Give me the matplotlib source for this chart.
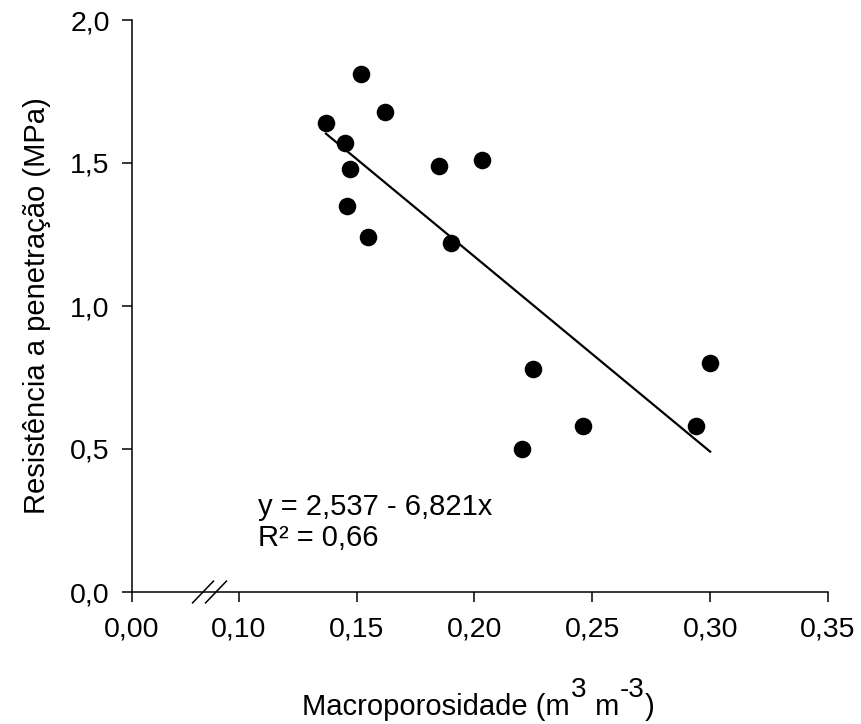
import numpy as np
import matplotlib
matplotlib.use('Agg')
import matplotlib.pyplot as plt

plt.rcParams['font.family'] = ['Liberation Sans', 'DejaVu Sans']

# macroporosity (m3 m-3) and penetration resistance (MPa)
macro = [0.137, 0.145, 0.147, 0.146, 0.155, 0.152, 0.162, 0.185, 0.203,
         0.190, 0.225, 0.246, 0.220, 0.294, 0.300]
resist = [1.64, 1.57, 1.48, 1.35, 1.24, 1.81, 1.68, 1.49, 1.51,
          1.22, 0.78, 0.58, 0.50, 0.58, 0.80]

# fitted line printed on the chart
b0, b1 = 2.537, -6.821
r2 = 0.66

x_ticks = [0.10, 0.15, 0.20, 0.25, 0.30, 0.35]
y_ticks = [0.0, 0.5, 1.0, 1.5, 2.0]
x_zero = 0.0547   # where "0,00" sits on the broken axis

fig = plt.figure(figsize=(8.61, 7.24), dpi=100)
ax = fig.add_axes([132/861, 1 - 592/724, 696/861, 572/724])

ax.scatter(macro, resist, s=160, color='black', zorder=3, linewidths=0)
xf = np.array([min(macro), max(macro)])
ax.plot(xf, b0 + b1*xf, color='black', lw=1.6)

ax.set_xlim(x_zero, 0.35)
ax.set_ylim(0, 2.0)
ax.set_xticks([x_zero] + x_ticks)
ax.set_xticklabels(['0,00'] + [f'{t:.2f}'.replace('.', ',') for t in x_ticks])
ax.set_yticks(y_ticks)
ax.set_yticklabels([f'{t:.1f}'.replace('.', ',') for t in y_ticks])
ax.tick_params(labelsize=20.5, length=7, width=1.1)
ax.tick_params(axis='x', pad=11)
ax.tick_params(axis='y', pad=9)
ax.spines['top'].set_visible(False)
ax.spines['right'].set_visible(False)
for s in ['left', 'bottom']:
    ax.spines[s].set_linewidth(1.1)
    ax.spines[s].set_clip_on(False)

# axis break marks
for xc in [203, 216]:
    xp = (xc - 132) / 696
    ax.plot([xp - 0.015, xp + 0.015], [-0.019, 0.019], transform=ax.transAxes,
            color='black', lw=1.1, clip_on=False)

ax.set_ylabel('Resistência a penetração (MPa)', fontsize=21, labelpad=14)

# x label built in pieces so the superscripts stay large
fs = 21
t1 = fig.text(302/861, 9/724, 'Macroporosidade (m', fontsize=fs, va='baseline')
t2 = ax.annotate('3', xy=(1, 0), xycoords=t1, xytext=(1, 13),
                 textcoords='offset points', fontsize=20, va='bottom')
t3 = ax.annotate(' m', xy=(1, 0), xycoords=t2, xytext=(0, -13),
                 textcoords='offset points', fontsize=fs, va='bottom')
t4 = ax.annotate('-3', xy=(1, 0), xycoords=t3, xytext=(1, 13),
                 textcoords='offset points', fontsize=20, va='bottom')
t5 = ax.annotate(')', xy=(1, 0), xycoords=t4, xytext=(0, -13),
                 textcoords='offset points', fontsize=fs, va='bottom')

ax.text(0.181, 0.1346, 'y = 2,537 - 6,821x', transform=ax.transAxes,
        fontsize=21, va='baseline')
ax.text(0.181, 0.081, f'R² = {r2:.2f}'.replace('.', ','), transform=ax.transAxes,
        fontsize=21, va='baseline')

fig.savefig('out.png', dpi=100)
